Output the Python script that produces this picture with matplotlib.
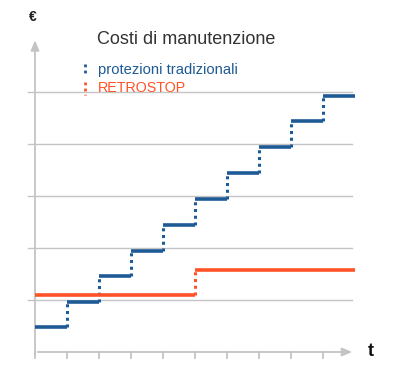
import numpy as np
import matplotlib
matplotlib.use("Agg")
from matplotlib import pyplot as plt
from matplotlib.lines import Line2D

# periods and costs (one grid unit per gridline)
periods = np.arange(11)
cost_traditional = [0.48, 0.96, 1.46, 1.94, 2.44, 2.94, 3.44, 3.94, 4.44, 4.92]
cost_retrostop = [1.10, 1.10, 1.10, 1.10, 1.10, 1.58, 1.58, 1.58, 1.58, 1.58]
grid_levels = [1, 2, 3, 4, 5]

title = "Costi di manutenzione"
labels = ["protezioni tradizionali", "RETROSTOP"]
blue = "#1d5a96"
orange = "#ff5226"
grey = "#c4c4c4"

plt.rcParams['font.family'] = ['Liberation Sans', 'DejaVu Sans']

fig = plt.figure(figsize=(4, 3.7), dpi=100)
ax = fig.add_axes([35 / 400, 18 / 370, 320 / 400, 312 / 370])
ax.set_xlim(0, 10)
ax.set_ylim(0, 6)
ax.axis('off')


def draw_steps(vals, color):
    # solid treads, dotted risers
    for i, v in enumerate(vals):
        ax.plot([periods[i], periods[i + 1] - 0.01], [v, v], color=color, lw=2.6,
                solid_capstyle='butt', zorder=3)
        if i > 0 and vals[i] != vals[i - 1]:
            ax.plot([periods[i], periods[i]], [vals[i - 1], v], color=color, lw=2.2,
                    linestyle=(0, (1, 1.2)), zorder=3)


for g in grid_levels:
    ax.plot([-0.22, 9.9], [g, g], color=grey, lw=1, zorder=1, clip_on=False)

# axes with arrows
ax.annotate("", xy=(10, 0), xytext=(0, 0),
            arrowprops=dict(arrowstyle="-|>,head_length=0.6,head_width=0.25", color=grey, lw=1.3),
            annotation_clip=False)
ax.annotate("", xy=(0, 6.05), xytext=(0, -0.1),
            arrowprops=dict(arrowstyle="-|>,head_length=0.6,head_width=0.25", color=grey, lw=1.3),
            annotation_clip=False)
for p in periods[:10]:
    ax.plot([p, p], [0, -0.11], color=grey, lw=1.3, clip_on=False)

draw_steps(cost_traditional, blue)
draw_steps(cost_retrostop, orange)

fig.text(97 / 400, 1 - 40 / 370, title, fontsize=13, color="#333333", va='center')
fig.text(98 / 400, 1 - 70 / 370, labels[0], fontsize=10.6, color=blue, va='center')
fig.text(98 / 400, 1 - 88 / 370, labels[1], fontsize=10.3, color=orange, va='center')
fig.add_artist(Line2D([85 / 400, 85 / 400], [1 - 64 / 370, 1 - 76 / 370], color=blue,
                      lw=2, linestyle=(0, (1, 1.2))))
fig.add_artist(Line2D([85 / 400, 85 / 400], [1 - 82 / 370, 1 - 95 / 370], color=orange,
                      lw=2, linestyle=(0, (1, 1.2))))

fig.text(33 / 400, 1 - 17 / 370, "€", fontsize=10, fontweight='bold', color="#222222",
         ha='center', va='center')
fig.text(371 / 400, 1 - 351 / 370, "t", fontsize=13, fontweight='bold', color="#111111",
         ha='center', va='center')

fig.savefig("out.png", dpi=100)
